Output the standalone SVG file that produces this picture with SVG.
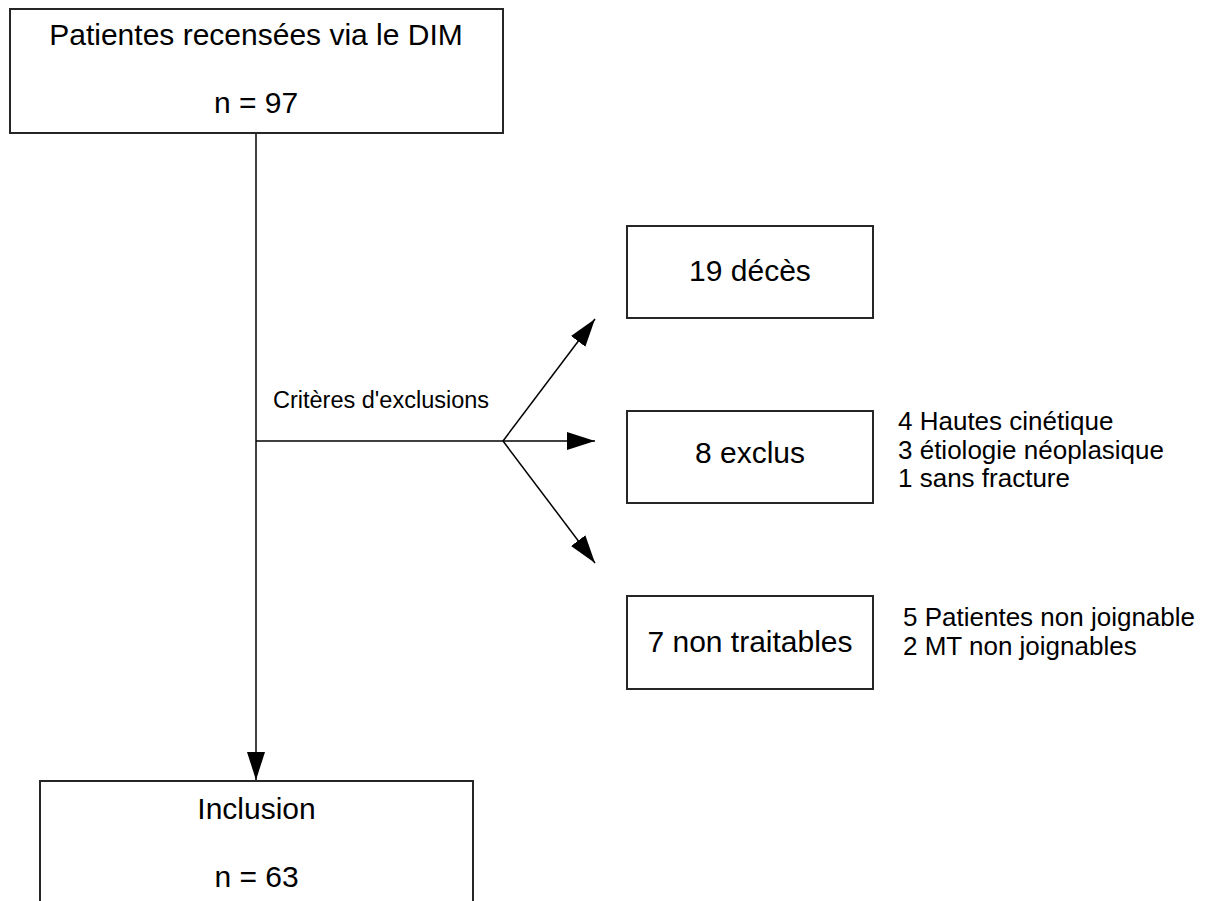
<svg xmlns="http://www.w3.org/2000/svg" width="1207" height="901" viewBox="0 0 1207 901">
<style>
.box{fill:#fff;stroke:#262626;stroke-width:2}
.t{font-family:"Liberation Sans",Arial,sans-serif;fill:#000}
.big{font-size:30px;text-anchor:middle}
.side{font-size:26px}
.lbl{font-size:23.5px}
.ln{stroke:#000;stroke-width:1.5;fill:none}
</style>
<defs>
<marker id="ah" markerUnits="userSpaceOnUse" markerWidth="28" markerHeight="18" refX="28" refY="9" orient="auto" viewBox="0 0 28 18">
<path d="M0,0 L28,9 L0,18 z" fill="#000"/>
</marker>
</defs>
<rect width="1207" height="901" fill="#fff"/>
<g id="connectors">
<line class="ln" x1="256" y1="133" x2="256" y2="780" marker-end="url(#ah)"/>
<polyline class="ln" points="256,441 503,441"/>
<line class="ln" x1="503" y1="441" x2="595" y2="441" marker-end="url(#ah)"/>
<line class="ln" x1="503" y1="441" x2="595" y2="319" marker-end="url(#ah)"/>
<line class="ln" x1="503" y1="441" x2="595" y2="563" marker-end="url(#ah)"/>
<text class="t lbl" x="273" y="408">Critères d'exclusions</text>
</g>
<g id="node-patientes">
<rect class="box" x="10" y="9" width="493" height="124"/>
<text class="t big" x="256" y="45">Patientes recensées via le DIM</text>
<text class="t big" x="256" y="113">n = 97</text>
</g>
<g id="node-deces">
<rect class="box" x="627" y="226" width="246" height="92"/>
<text class="t big" x="750" y="281">19 décès</text>
</g>
<g id="node-exclus">
<rect class="box" x="627" y="411" width="246" height="92"/>
<text class="t big" x="750" y="463">8 exclus</text>
<text class="t side" x="898" y="430">4 Hautes cinétique</text>
<text class="t side" x="898" y="459">3 étiologie néoplasique</text>
<text class="t side" x="898" y="487">1 sans fracture</text>
</g>
<g id="node-nontraitables">
<rect class="box" x="627" y="596" width="246" height="93"/>
<text class="t big" x="750" y="652">7 non traitables</text>
<text class="t side" x="903" y="626">5 Patientes non joignable</text>
<text class="t side" x="903" y="655">2 MT non joignables</text>
</g>
<g id="node-inclusion">
<rect class="box" x="40" y="781" width="433" height="140"/>
<text class="t big" x="256.5" y="819">Inclusion</text>
<text class="t big" x="256.5" y="887">n = 63</text>
</g>
</svg>
